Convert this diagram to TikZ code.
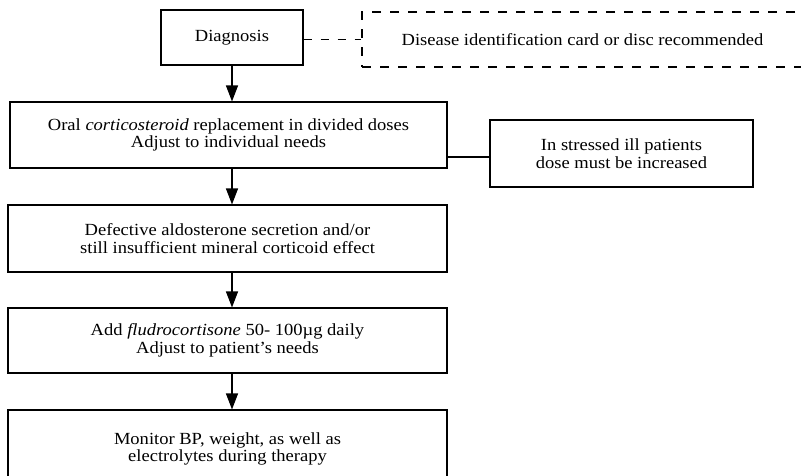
\documentclass[tikz,border=0pt]{standalone}
\usepackage{fontspec}
\setmainfont{Liberation Serif}[FakeStretch=1.09]
\usetikzlibrary{arrows.meta}
\begin{document}
\begin{tikzpicture}[x=1pt,y=-1pt,
  every node/.style={font=\fontsize{17}{17.5}\selectfont, align=center, inner sep=0pt},
  box/.style={draw, line width=1.1pt, rectangle},
  notebox/.style={draw, line width=1.1pt, dash pattern=on 9pt off 9pt, rectangle},
  flow/.style={line width=1.2pt, -{Triangle[length=16pt,width=12pt]}},
  link/.style={line width=1.2pt}]
  \useasboundingbox (0,0) rectangle (801,475);
  \fill[white] (0,0) rectangle (801,475);

  % main column
  \node[box, minimum width=142pt, minimum height=55pt] (diag) at (232,37.5) {Diagnosis};
  \node[box, minimum width=437pt, minimum height=66pt] (oral) at (228.5,135)
    {Oral \textit{corticosteroid} replacement in divided doses\\Adjust to individual needs};
  \node[box, minimum width=439pt, minimum height=67pt] (defect) at (227.5,238.5)
    {Defective aldosterone secretion and/or\\still insufficient mineral corticoid effect};
  \node[box, minimum width=439pt, minimum height=65pt] (fludro) at (227.5,340.5)
    {Add \textit{fludrocortisone} 50- 100µg daily\\Adjust to patient's needs};
  \node[box, minimum width=439pt, minimum height=78pt] (monitor) at (227.5,449)
    {Monitor BP, weight, as well as\\electrolytes during therapy};

  % side notes
  \node[notebox, minimum width=441pt, minimum height=55pt] (card) at (582.5,39.5)
    {Disease identification card or disc recommended};
  \node[box, minimum width=263pt, minimum height=67pt] (side) at (621.5,153.5)
    {In stressed ill patients\\dose must be increased};

  % connectors
  \draw[flow] (diag.south) -- (diag.south |- oral.north);
  \draw[flow] (diag.south |- oral.south) -- (diag.south |- defect.north);
  \draw[flow] (diag.south |- defect.south) -- (diag.south |- fludro.north);
  \draw[flow] (diag.south |- fludro.south) -- (diag.south |- monitor.north);
  \draw[link, dash pattern=on 8pt off 9pt] (diag.east |- card.west) -- (card.west);
  \path (side.west) ++(0,3.5) coordinate (sidein);
  \draw[link] (oral.east |- sidein) -- (side.west |- sidein);
\end{tikzpicture}
\end{document}
